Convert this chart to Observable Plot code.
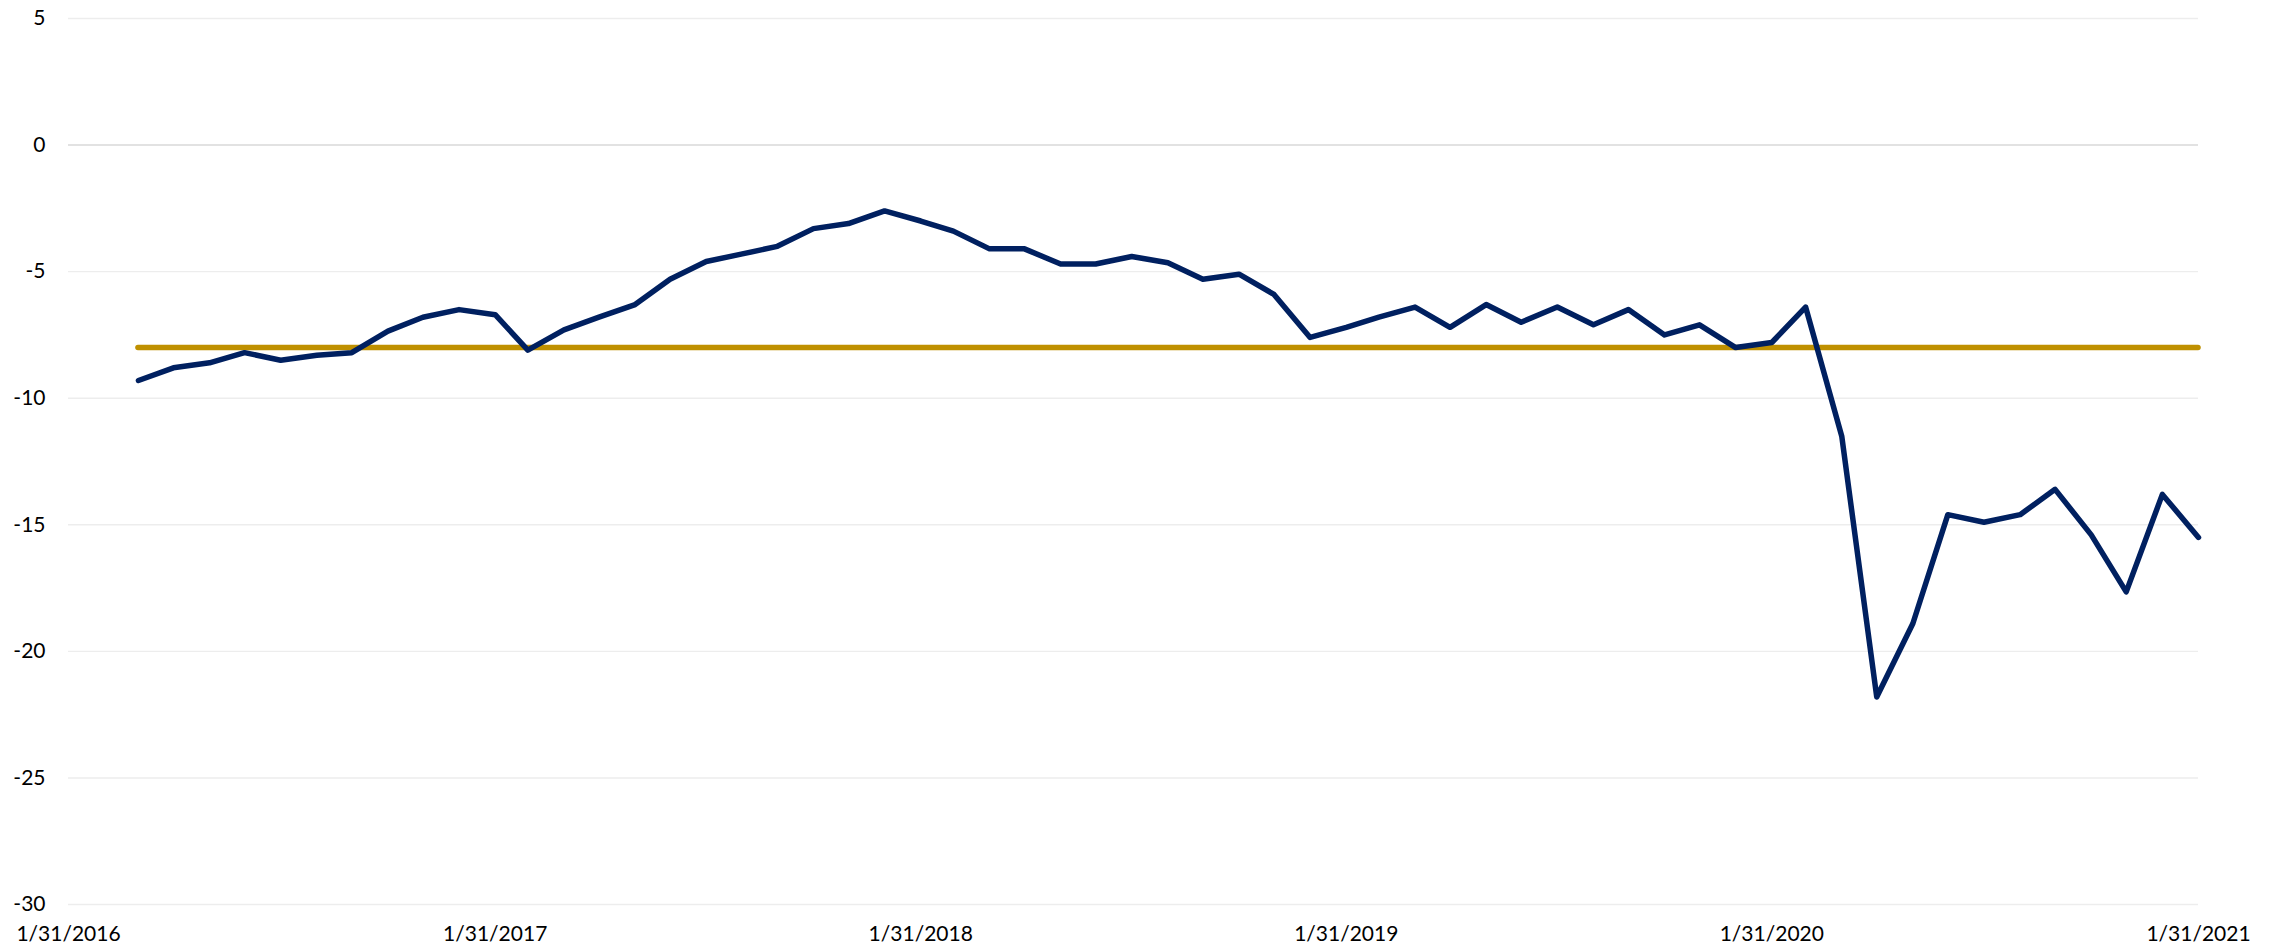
<!DOCTYPE html>
<html>
<head>
<meta charset="utf-8">
<script src="https://cdn.jsdelivr.net/npm/d3@7"></script>
<script src="https://cdn.jsdelivr.net/npm/@observablehq/plot@0.6"></script>
<style>
  html, body { margin: 0; padding: 0; background: #ffffff; }
  #chart svg { display: block; }
</style>
</head>
<body>
<div id="chart"></div>
<script>
// Month-end dates (categories)
const months = [
  "2016-03-31","2016-04-30","2016-05-31","2016-06-30","2016-07-31","2016-08-31","2016-09-30","2016-10-31","2016-11-30","2016-12-31",
  "2017-01-31","2017-02-28","2017-03-31","2017-04-30","2017-05-31","2017-06-30","2017-07-31","2017-08-31","2017-09-30","2017-10-31","2017-11-30","2017-12-31",
  "2018-01-31","2018-02-28","2018-03-31","2018-04-30","2018-05-31","2018-06-30","2018-07-31","2018-08-31","2018-09-30","2018-10-31","2018-11-30","2018-12-31",
  "2019-01-31","2019-02-28","2019-03-31","2019-04-30","2019-05-31","2019-06-30","2019-07-31","2019-08-31","2019-09-30","2019-10-31","2019-11-30","2019-12-31",
  "2020-01-31","2020-02-29","2020-03-31","2020-04-30","2020-05-31","2020-06-30","2020-07-31","2020-08-31","2020-09-30","2020-10-31","2020-11-30","2020-12-31",
  "2021-01-31"
];

// Series values
const values = [
  -9.3, -8.8, -8.6, -8.2, -8.5, -8.3, -8.2, -7.35, -6.8, -6.5,
  -6.7, -8.1, -7.3, -6.8, -6.3, -5.3, -4.6, -4.3, -4.0, -3.3, -3.1, -2.6,
  -3.0, -3.4, -4.1, -4.1, -4.7, -4.7, -4.4, -4.65, -5.3, -5.1, -5.9, -7.6,
  -7.2, -6.8, -6.4, -7.2, -6.3, -7.0, -6.4, -7.1, -6.5, -7.5, -7.1, -8.0,
  -7.8, -6.4, -11.5, -21.8, -18.9, -14.6, -14.9, -14.6, -13.6, -15.4, -17.65, -13.8,
  -15.5
];

// Constant reference level (gold line)
const benchmark = [-8];

// Axis ticks and labels
const yTicks = [5, 0, -5, -10, -15, -20, -25, -30];
const xTickDates = ["2016-01-31","2017-01-31","2018-01-31","2019-01-31","2020-01-31","2021-01-31"];
const xTickLabels = ["1/31/2016","1/31/2017","1/31/2018","1/31/2019","1/31/2020","1/31/2021"];

const parse = d3.utcParse("%Y-%m-%d");
const data = months.map((m, i) => ({date: parse(m), value: values[i]}));
const tickDates = xTickDates.map(parse);
const labelFor = new Map(tickDates.map((d, i) => [+d, xTickLabels[i]]));

const chart = Plot.plot({
  width: 2280,
  height: 949,
  marginLeft: 68,
  marginRight: 82,
  marginTop: 18,
  marginBottom: 45,
  style: {fontFamily: "Lato, 'Noto Sans', sans-serif", fontSize: "21px", color: "#000", background: "#fff"},
  x: {type: "utc", domain: [tickDates[0], tickDates[tickDates.length - 1]]},
  y: {domain: [-30, 5]},
  marks: [
    Plot.ruleY(yTicks.filter(d => d !== 0), {stroke: "#EDEDED", strokeWidth: 1.4}),
    Plot.ruleY([0], {stroke: "#D9D9D9", strokeWidth: 1.6}),
    Plot.axisY({ticks: yTicks, tickSize: 0, tickPadding: 23, tickFormat: d => String(d), label: null, fill: "#000"}),
    Plot.axisX({ticks: tickDates, tickSize: 0, tickPadding: 22, tickFormat: d => labelFor.get(+d), label: null, fill: "#000"}),
    Plot.ruleY(benchmark, {x1: data[0].date, x2: data[data.length - 1].date, stroke: "#BF9000", strokeWidth: 5.5, strokeLinecap: "round"}),
    Plot.line(data, {x: "date", y: "value", stroke: "#002060", strokeWidth: 5.5, strokeLinejoin: "round", strokeLinecap: "round"})
  ]
});
document.getElementById("chart").appendChild(chart);
</script>
</body>
</html>
